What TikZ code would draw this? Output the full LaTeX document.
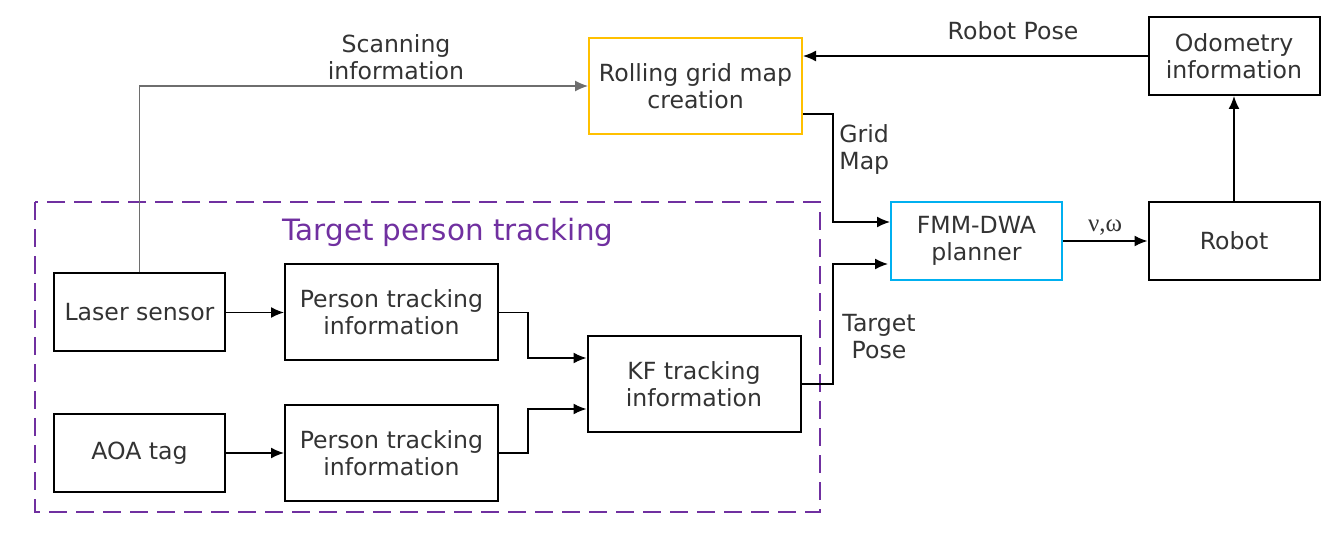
\documentclass[tikz,border=0pt]{standalone}
\usepackage{fontspec}
\setmainfont{DejaVu Sans}
\newfontfamily\greekfont{Liberation Serif}
\usetikzlibrary{arrows,arrows.meta,positioning,calc}
\definecolor{textgray}{RGB}{51,51,51}
\definecolor{mapyellow}{RGB}{255,192,0}
\definecolor{plannerblue}{RGB}{0,176,240}
\definecolor{trackpurple}{RGB}{112,48,160}
\definecolor{scangray}{RGB}{110,110,110}

\begin{document}
\begin{tikzpicture}[
    x=0.5pt, y=-0.5pt,
    every node/.style={text=textgray, font=\fontsize{11.8}{13.5}\selectfont},
    block/.style={rectangle, draw=black, line width=1pt, align=center, minimum width=85.5pt, minimum height=39pt, inner sep=2pt},
    wideblock/.style={block, minimum width=106.5pt, minimum height=48pt},
    link/.style={-{Latex[length=6.5pt,width=5.5pt]}, line width=0.75pt, black},
    lbl/.style={align=center, inner sep=0pt}
]
    \useasboundingbox (0,0) rectangle (1340,534);

    % group frame
    \draw[trackpurple, line width=0.75pt, dash pattern=on 9pt off 4.5pt] (35,202) rectangle (820,512);
    \node[text=trackpurple, font=\fontsize{14.7}{16}\selectfont] (title) at (448,232) {Target person tracking};

    \node[wideblock, draw=mapyellow] (rolling) at (695.5,86) {Rolling grid map\\creation};
    \node[block] (odometry) at (1234,56) {Odometry\\information};
    \node[block, draw=plannerblue] (planner) at (976.5,241) {FMM-DWA\\planner};
    \node[block] (robot) at (1234,241) {Robot};

    \node[block] (laser) at (139.5,312.5) {Laser sensor};
    \node[block] (aoa) at (139.5,453) {AOA tag};
    \node[wideblock] (persontop) at (391.5,312.5) {Person tracking\\information};
    \node[wideblock] (personbot) at (391.5,453) {Person tracking\\information};
    \node[wideblock] (kf) at (694,384) {KF tracking\\information};

    \draw[link, scangray, line width=0.6pt] (laser.north) |- (rolling.west);
    \node[lbl] (scanlbl) at (396,57) {Scanning\\information};

    \draw[link] (odometry.west) -- (rolling.east |- odometry.west);
    \node[lbl] (poselbl) at (1013,31) {Robot Pose};

    \draw[link] ($(rolling.east)+(0,28)$) -| (833,222) -- (planner.west |- 0,222);
    \node[lbl, align=left, anchor=north west] (gridlbl) at (839,124) {Grid\\Map};

    \draw[link] (kf.east) -| (833,264) -- ($(planner.west |- 0,264)+(-2,0)$);
    \node[lbl] (targetlbl) at (879,337) {Target\\Pose};

    \draw[link] (planner.east) -- (robot.west);
    \node[lbl, font=\greekfont\fontsize{12.5}{14}\selectfont] (vwlbl) at (1105,228) {ν,ω};
    \draw[link] (robot.north) -- (odometry.south);

    \draw[link] (laser.east) -- (persontop.west);
    \draw[link] (aoa.east) -- (personbot.west);
    \draw[link] (persontop.east) -| (528,358) -- (kf.west |- 0,358);
    \draw[link] (personbot.east) -| (528,409) -- (kf.west |- 0,409);
\end{tikzpicture}
\end{document}
